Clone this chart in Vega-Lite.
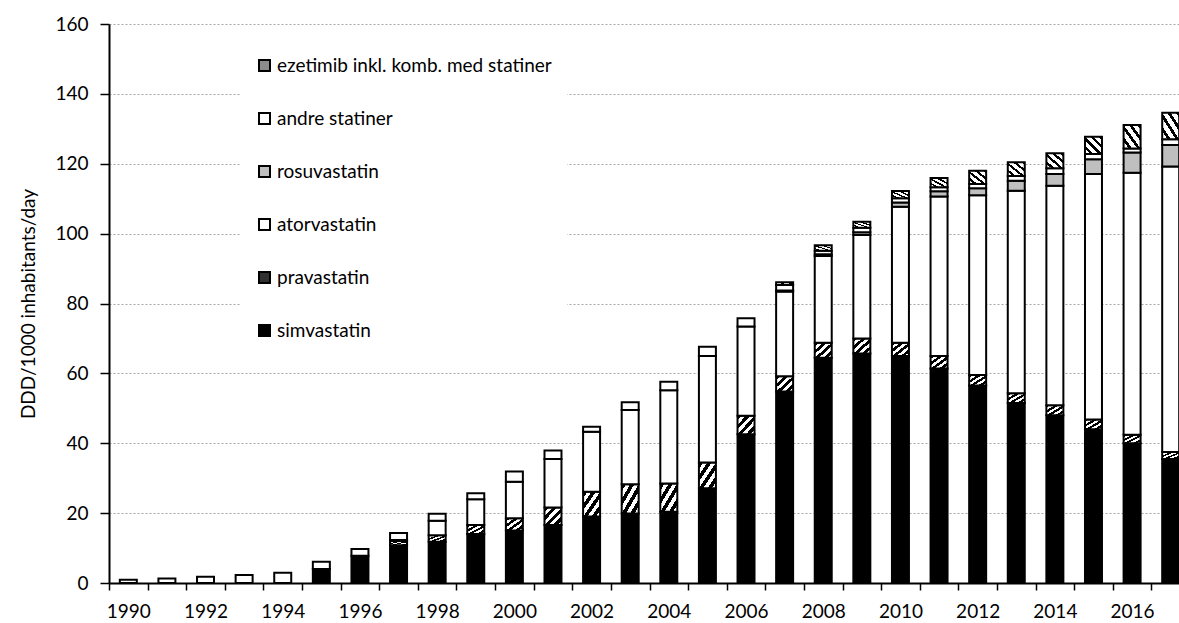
{
  "$schema": "https://vega.github.io/schema/vega-lite/v6.json",
  "width": 1070,
  "height": 559,
  "autosize": "none",
  "padding": {"left": 109, "top": 24, "right": 0, "bottom": 40},
  "background": "white",
  "config": {"font": "Lato", "view": {"stroke": null}},
  "datasets": {
    "statins": [
      {"year": 1990, "drug": "andre statiner", "v": 0.9, "k": 5},
      {"year": 1991, "drug": "andre statiner", "v": 1.3, "k": 5},
      {"year": 1992, "drug": "andre statiner", "v": 1.8, "k": 5},
      {"year": 1993, "drug": "andre statiner", "v": 2.3, "k": 5},
      {"year": 1994, "drug": "andre statiner", "v": 2.9, "k": 5},
      {"year": 1995, "drug": "simvastatin", "v": 4.0, "k": 1},
      {"year": 1995, "drug": "andre statiner", "v": 2.1, "k": 5},
      {"year": 1996, "drug": "simvastatin", "v": 7.8, "k": 1},
      {"year": 1996, "drug": "andre statiner", "v": 1.9, "k": 5},
      {"year": 1997, "drug": "simvastatin", "v": 10.8, "k": 1},
      {"year": 1997, "drug": "pravastatin", "v": 1.2, "k": 2},
      {"year": 1997, "drug": "atorvastatin", "v": 0.3, "k": 3},
      {"year": 1997, "drug": "andre statiner", "v": 2.0, "k": 5},
      {"year": 1998, "drug": "simvastatin", "v": 11.8, "k": 1},
      {"year": 1998, "drug": "pravastatin", "v": 1.9, "k": 2},
      {"year": 1998, "drug": "atorvastatin", "v": 4.1, "k": 3},
      {"year": 1998, "drug": "andre statiner", "v": 2.0, "k": 5},
      {"year": 1999, "drug": "simvastatin", "v": 14.0, "k": 1},
      {"year": 1999, "drug": "pravastatin", "v": 2.6, "k": 2},
      {"year": 1999, "drug": "atorvastatin", "v": 7.4, "k": 3},
      {"year": 1999, "drug": "andre statiner", "v": 1.7, "k": 5},
      {"year": 2000, "drug": "simvastatin", "v": 15.0, "k": 1},
      {"year": 2000, "drug": "pravastatin", "v": 3.5, "k": 2},
      {"year": 2000, "drug": "atorvastatin", "v": 10.5, "k": 3},
      {"year": 2000, "drug": "andre statiner", "v": 2.9, "k": 5},
      {"year": 2001, "drug": "simvastatin", "v": 16.6, "k": 1},
      {"year": 2001, "drug": "pravastatin", "v": 5.0, "k": 2},
      {"year": 2001, "drug": "atorvastatin", "v": 13.9, "k": 3},
      {"year": 2001, "drug": "andre statiner", "v": 2.4, "k": 5},
      {"year": 2002, "drug": "simvastatin", "v": 19.0, "k": 1},
      {"year": 2002, "drug": "pravastatin", "v": 7.1, "k": 2},
      {"year": 2002, "drug": "atorvastatin", "v": 17.2, "k": 3},
      {"year": 2002, "drug": "andre statiner", "v": 1.4, "k": 5},
      {"year": 2003, "drug": "simvastatin", "v": 19.9, "k": 1},
      {"year": 2003, "drug": "pravastatin", "v": 8.4, "k": 2},
      {"year": 2003, "drug": "atorvastatin", "v": 21.2, "k": 3},
      {"year": 2003, "drug": "andre statiner", "v": 2.2, "k": 5},
      {"year": 2004, "drug": "simvastatin", "v": 20.4, "k": 1},
      {"year": 2004, "drug": "pravastatin", "v": 8.1, "k": 2},
      {"year": 2004, "drug": "atorvastatin", "v": 26.7, "k": 3},
      {"year": 2004, "drug": "andre statiner", "v": 2.4, "k": 5},
      {"year": 2005, "drug": "simvastatin", "v": 27.1, "k": 1},
      {"year": 2005, "drug": "pravastatin", "v": 7.4, "k": 2},
      {"year": 2005, "drug": "atorvastatin", "v": 30.5, "k": 3},
      {"year": 2005, "drug": "andre statiner", "v": 2.6, "k": 5},
      {"year": 2006, "drug": "simvastatin", "v": 42.6, "k": 1},
      {"year": 2006, "drug": "pravastatin", "v": 5.3, "k": 2},
      {"year": 2006, "drug": "atorvastatin", "v": 25.5, "k": 3},
      {"year": 2006, "drug": "andre statiner", "v": 2.4, "k": 5},
      {"year": 2007, "drug": "simvastatin", "v": 54.8, "k": 1},
      {"year": 2007, "drug": "pravastatin", "v": 4.4, "k": 2},
      {"year": 2007, "drug": "atorvastatin", "v": 24.2, "k": 3},
      {"year": 2007, "drug": "rosuvastatin", "v": 0.3, "k": 4},
      {"year": 2007, "drug": "andre statiner", "v": 1.6, "k": 5},
      {"year": 2007, "drug": "ezetimib inkl. komb. med statiner", "v": 0.8, "k": 6},
      {"year": 2008, "drug": "simvastatin", "v": 64.5, "k": 1},
      {"year": 2008, "drug": "pravastatin", "v": 4.3, "k": 2},
      {"year": 2008, "drug": "atorvastatin", "v": 24.8, "k": 3},
      {"year": 2008, "drug": "rosuvastatin", "v": 0.5, "k": 4},
      {"year": 2008, "drug": "andre statiner", "v": 1.0, "k": 5},
      {"year": 2008, "drug": "ezetimib inkl. komb. med statiner", "v": 1.6, "k": 6},
      {"year": 2009, "drug": "simvastatin", "v": 65.7, "k": 1},
      {"year": 2009, "drug": "pravastatin", "v": 4.3, "k": 2},
      {"year": 2009, "drug": "atorvastatin", "v": 29.6, "k": 3},
      {"year": 2009, "drug": "rosuvastatin", "v": 0.8, "k": 4},
      {"year": 2009, "drug": "andre statiner", "v": 1.3, "k": 5},
      {"year": 2009, "drug": "ezetimib inkl. komb. med statiner", "v": 1.7, "k": 6},
      {"year": 2010, "drug": "simvastatin", "v": 65.0, "k": 1},
      {"year": 2010, "drug": "pravastatin", "v": 3.8, "k": 2},
      {"year": 2010, "drug": "atorvastatin", "v": 38.9, "k": 3},
      {"year": 2010, "drug": "rosuvastatin", "v": 1.2, "k": 4},
      {"year": 2010, "drug": "andre statiner", "v": 1.2, "k": 5},
      {"year": 2010, "drug": "ezetimib inkl. komb. med statiner", "v": 2.1, "k": 6},
      {"year": 2011, "drug": "simvastatin", "v": 61.4, "k": 1},
      {"year": 2011, "drug": "pravastatin", "v": 3.6, "k": 2},
      {"year": 2011, "drug": "atorvastatin", "v": 45.6, "k": 3},
      {"year": 2011, "drug": "rosuvastatin", "v": 1.5, "k": 4},
      {"year": 2011, "drug": "andre statiner", "v": 1.2, "k": 5},
      {"year": 2011, "drug": "ezetimib inkl. komb. med statiner", "v": 2.6, "k": 6},
      {"year": 2012, "drug": "simvastatin", "v": 56.5, "k": 1},
      {"year": 2012, "drug": "pravastatin", "v": 3.0, "k": 2},
      {"year": 2012, "drug": "atorvastatin", "v": 51.5, "k": 3},
      {"year": 2012, "drug": "rosuvastatin", "v": 2.0, "k": 4},
      {"year": 2012, "drug": "andre statiner", "v": 1.2, "k": 5},
      {"year": 2012, "drug": "ezetimib inkl. komb. med statiner", "v": 3.8, "k": 6},
      {"year": 2013, "drug": "simvastatin", "v": 51.5, "k": 1},
      {"year": 2013, "drug": "pravastatin", "v": 2.8, "k": 2},
      {"year": 2013, "drug": "atorvastatin", "v": 58.0, "k": 3},
      {"year": 2013, "drug": "rosuvastatin", "v": 2.8, "k": 4},
      {"year": 2013, "drug": "andre statiner", "v": 1.4, "k": 5},
      {"year": 2013, "drug": "ezetimib inkl. komb. med statiner", "v": 3.9, "k": 6},
      {"year": 2014, "drug": "simvastatin", "v": 48.0, "k": 1},
      {"year": 2014, "drug": "pravastatin", "v": 2.9, "k": 2},
      {"year": 2014, "drug": "atorvastatin", "v": 62.8, "k": 3},
      {"year": 2014, "drug": "rosuvastatin", "v": 3.4, "k": 4},
      {"year": 2014, "drug": "andre statiner", "v": 1.6, "k": 5},
      {"year": 2014, "drug": "ezetimib inkl. komb. med statiner", "v": 4.3, "k": 6},
      {"year": 2015, "drug": "simvastatin", "v": 44.0, "k": 1},
      {"year": 2015, "drug": "pravastatin", "v": 2.8, "k": 2},
      {"year": 2015, "drug": "atorvastatin", "v": 70.3, "k": 3},
      {"year": 2015, "drug": "rosuvastatin", "v": 4.2, "k": 4},
      {"year": 2015, "drug": "andre statiner", "v": 1.5, "k": 5},
      {"year": 2015, "drug": "ezetimib inkl. komb. med statiner", "v": 4.9, "k": 6},
      {"year": 2016, "drug": "simvastatin", "v": 40.0, "k": 1},
      {"year": 2016, "drug": "pravastatin", "v": 2.4, "k": 2},
      {"year": 2016, "drug": "atorvastatin", "v": 75.0, "k": 3},
      {"year": 2016, "drug": "rosuvastatin", "v": 5.8, "k": 4},
      {"year": 2016, "drug": "andre statiner", "v": 1.2, "k": 5},
      {"year": 2016, "drug": "ezetimib inkl. komb. med statiner", "v": 6.7, "k": 6},
      {"year": 2017, "drug": "simvastatin", "v": 35.5, "k": 1},
      {"year": 2017, "drug": "pravastatin", "v": 2.0, "k": 2},
      {"year": 2017, "drug": "atorvastatin", "v": 81.7, "k": 3},
      {"year": 2017, "drug": "rosuvastatin", "v": 6.2, "k": 4},
      {"year": 2017, "drug": "andre statiner", "v": 1.6, "k": 5},
      {"year": 2017, "drug": "ezetimib inkl. komb. med statiner", "v": 7.6, "k": 6}
    ]
  },
  "data": {"name": "statins"},
  "mark": {"type": "bar", "stroke": "black", "strokeWidth": 2},
  "encoding": {
    "x": {
      "field": "year",
      "type": "ordinal",
      "scale": {"range": [0, 1081], "paddingInner": 0.56, "paddingOuter": 0.28},
      "axis": {
        "title": null,
        "labelAngle": 0,
        "labelExpr": "datum.value % 2 === 0 ? datum.label : ''",
        "tickOffset": -19.3,
        "labelOffset": 19.3,
        "domainColor": "black",
        "domainWidth": 2,
        "tickColor": "black",
        "tickWidth": 1.5,
        "tickSize": 7,
        "labelFontSize": 19,
        "labelColor": "black",
        "labelPadding": 12,
        "labelOverlap": false
      }
    },
    "y": {
      "field": "v",
      "type": "quantitative",
      "stack": "zero",
      "scale": {"domain": [0, 160], "nice": false},
      "axis": {
        "title": "DDD/1000 inhabitants/day",
        "values": [0, 20, 40, 60, 80, 100, 120, 140, 160],
        "titleFontSize": 19,
        "titleFontWeight": "normal",
        "titleColor": "black",
        "titlePadding": 16,
        "labelFontSize": 19,
        "labelColor": "black",
        "labelPadding": 12,
        "tickSize": 9,
        "tickColor": "black",
        "tickWidth": 1.5,
        "domainColor": "black",
        "domainWidth": 2,
        "grid": true,
        "gridColor": "#a6a6a6",
        "gridDash": [2, 2],
        "gridWidth": 1
      }
    },
    "fill": {
      "field": "drug",
      "type": "nominal",
      "condition": [
        {"test": "datum.drug === 'pravastatin'", "value": {"gradient": "linear", "x1": 0, "y1": 0, "x2": 1, "y2": 1, "stops": [
            {"offset": 0, "color": "black"}, {"offset": 0.125, "color": "black"}, {"offset": 0.125, "color": "white"}, {"offset": 0.25, "color": "white"},
            {"offset": 0.25, "color": "black"}, {"offset": 0.375, "color": "black"}, {"offset": 0.375, "color": "white"}, {"offset": 0.5, "color": "white"},
            {"offset": 0.5, "color": "black"}, {"offset": 0.625, "color": "black"}, {"offset": 0.625, "color": "white"}, {"offset": 0.75, "color": "white"},
            {"offset": 0.75, "color": "black"}, {"offset": 0.875, "color": "black"}, {"offset": 0.875, "color": "white"}, {"offset": 1, "color": "white"}
          ]}},
        {"test": "datum.drug === 'ezetimib inkl. komb. med statiner'", "value": {"gradient": "linear", "x1": 0, "y1": 1, "x2": 1, "y2": 0, "stops": [
            {"offset": 0, "color": "white"}, {"offset": 0.15, "color": "white"}, {"offset": 0.15, "color": "black"}, {"offset": 0.25, "color": "black"},
            {"offset": 0.25, "color": "white"}, {"offset": 0.4, "color": "white"}, {"offset": 0.4, "color": "black"}, {"offset": 0.5, "color": "black"},
            {"offset": 0.5, "color": "white"}, {"offset": 0.65, "color": "white"}, {"offset": 0.65, "color": "black"}, {"offset": 0.75, "color": "black"},
            {"offset": 0.75, "color": "white"}, {"offset": 0.9, "color": "white"}, {"offset": 0.9, "color": "black"}, {"offset": 1, "color": "black"}
          ]}}
      ],
      "scale": {
        "domain": ["ezetimib inkl. komb. med statiner", "andre statiner", "rosuvastatin", "atorvastatin", "pravastatin", "simvastatin"],
        "range": ["#8c8c8c", "white", "#bfbfbf", "white", "#303030", "black"]
      },
      "legend": {
        "title": null,
        "orient": "none",
        "legendX": 131,
        "legendY": 17,
        "fillColor": "white",
        "padding": 15,
        "symbolType": "square",
        "symbolSize": 121,
        "symbolStrokeColor": "black",
        "symbolStrokeWidth": 2,
        "labelFontSize": 19,
        "labelColor": "black",
        "labelLimit": 500,
        "rowPadding": 33,
        "labelOffset": 3
      }
    },
    "order": {"field": "k", "type": "quantitative", "sort": "ascending"}
  }
}
